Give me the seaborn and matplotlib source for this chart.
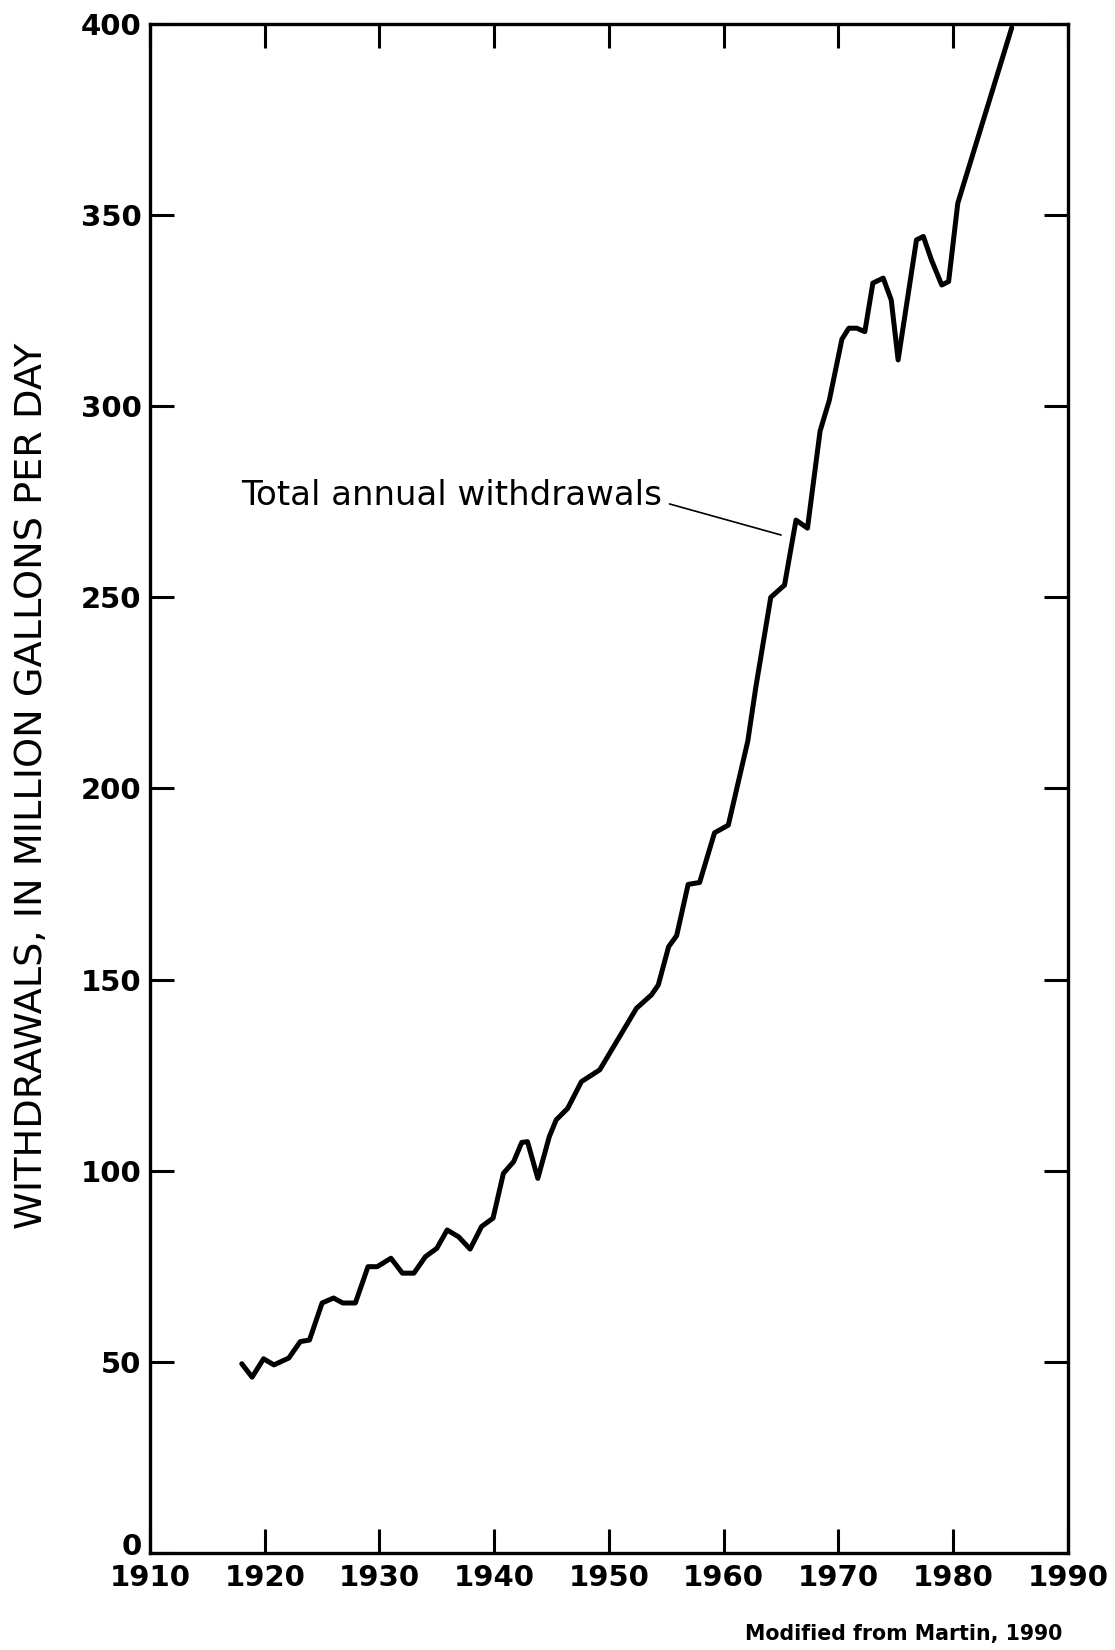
import matplotlib
matplotlib.use("Agg")
import matplotlib.pyplot as plt
import matplotlib.transforms as mtransforms
import seaborn as sns
import pandas as pd

# Annual ground-water withdrawals (million gallons per day)
years = [1918.0, 1918.9, 1919.9, 1920.8, 1922.1, 1923.1, 1923.9, 1925.0, 1926.0,
         1926.8, 1927.9, 1929.0, 1929.8, 1931.0, 1932.0, 1933.0, 1934.0, 1935.0,
         1935.9, 1936.9, 1937.9, 1938.9, 1939.9, 1940.8, 1941.7, 1942.4, 1942.9,
         1943.8, 1944.8, 1945.4, 1946.4, 1947.6, 1949.2, 1952.4, 1953.7, 1954.3,
         1955.2, 1955.9, 1956.9, 1957.9, 1959.2, 1960.4, 1962.1, 1962.8, 1964.1,
         1965.3, 1966.3, 1967.3, 1968.4, 1969.2, 1970.3, 1970.9, 1971.6, 1972.3,
         1973.0, 1973.9, 1974.6, 1975.2, 1976.8, 1977.4, 1978.1, 1979.0, 1979.6,
         1980.4, 1985.1]
withdrawals = [49.5, 46.0, 50.8, 49.2, 51.0, 55.3, 55.7, 65.4, 66.7,
               65.4, 65.4, 74.9, 74.9, 77.1, 73.2, 73.2, 77.5, 79.7,
               84.5, 82.7, 79.5, 85.4, 87.6, 99.3, 102.4, 107.4, 107.6,
               98.0, 108.9, 113.3, 116.3, 123.3, 126.4, 142.5, 146.0, 148.6,
               158.6, 161.5, 174.9, 175.4, 188.4, 190.4, 212.4, 226.5, 250.0,
               253.2, 270.2, 268.1, 293.5, 301.5, 317.5, 320.4, 320.4, 319.5,
               332.2, 333.5, 327.8, 312.1, 343.5, 344.4, 338.3, 331.7, 332.6,
               353.1, 399.0]

x_ticks = [1910, 1920, 1930, 1940, 1950, 1960, 1970, 1980, 1990]
y_ticks = [0, 50, 100, 150, 200, 250, 300, 350, 400]

df = pd.DataFrame({"year": years, "mgd": withdrawals})

sns.set_theme(style="ticks")
plt.rcParams["font.family"] = ["DejaVu Sans"]

fig = plt.figure(figsize=(11.15, 16.5), dpi=100)
ax = fig.add_axes([0.1345, 0.0588, 0.8233, 0.9267])

sns.lineplot(data=df, x="year", y="mgd", sort=False, color="black",
             linewidth=3.6, ax=ax)
for ln in ax.lines:
    ln.set_solid_joinstyle("round")
    ln.set_solid_capstyle("round")

ax.set_xlim(1910, 1990)
ax.set_ylim(0, 400)
ax.set_xticks(x_ticks)
ax.set_yticks(y_ticks)
ax.set_xticklabels([str(v) for v in x_ticks])
ax.set_yticklabels([str(v) for v in y_ticks])

for side in ["left", "right", "top", "bottom"]:
    ax.spines[side].set_visible(True)
    ax.spines[side].set_linewidth(2.4)
    ax.spines[side].set_color("black")

ax.tick_params(axis="both", which="major", direction="in", length=17,
               width=2.2, color="black", top=True, right=True,
               labelsize=21, labelcolor="black")
ax.tick_params(axis="x", pad=8)
ax.tick_params(axis="y", pad=6)
for lab in ax.get_xticklabels() + ax.get_yticklabels():
    lab.set_fontweight("bold")

# lift the "0" label a little so it clears the year labels
zero_lab = ax.get_yticklabels()[0]
zero_lab.set_transform(zero_lab.get_transform() +
                       mtransforms.ScaledTranslation(0, 9 / 100, fig.dpi_scale_trans))

ax.set_xlabel("")
ax.set_ylabel("WITHDRAWALS, IN MILLION GALLONS PER DAY", fontsize=27.5,
              color="black", va="center")
ax.yaxis.set_label_coords(-0.128, 0.5016)

ax.annotate("Total annual withdrawals", xy=(1965.0, 266.3),
            xytext=(1936.3, 274.2), textcoords="data",
            ha="center", va="baseline", fontsize=24.5, color="black",
            fontweight="medium",
            arrowprops=dict(arrowstyle="-", lw=1.2, color="black",
                            shrinkA=3, shrinkB=0, relpos=(1.0, 0.3)))

fig.text(0.9525, 0.0097, "Modified from Martin, 1990", ha="right",
         va="center", fontsize=14.8, fontweight="bold", color="black")

fig.savefig("out.png", dpi=100, facecolor="white")
